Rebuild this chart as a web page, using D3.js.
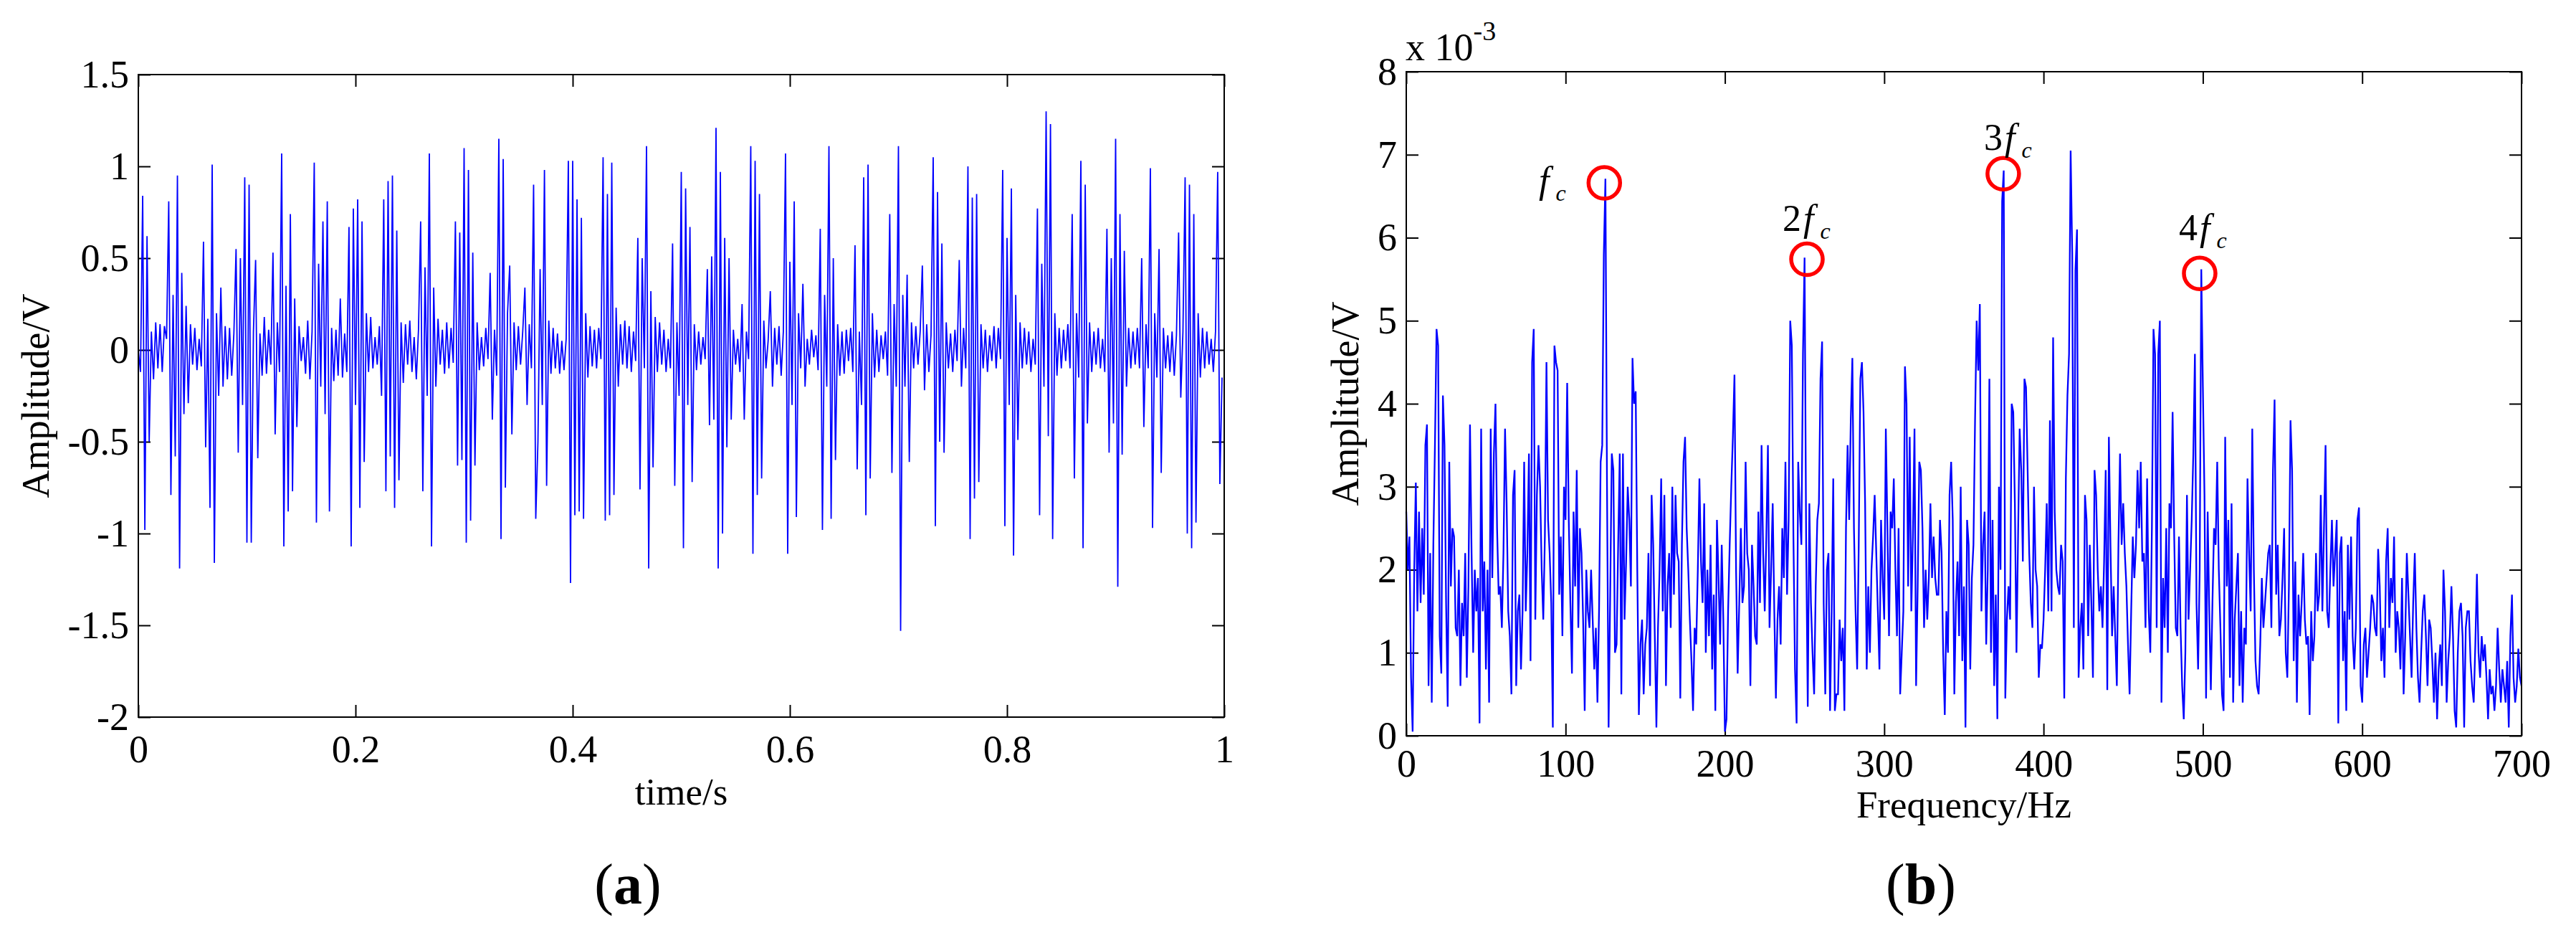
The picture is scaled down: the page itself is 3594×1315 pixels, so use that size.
<!DOCTYPE html>
<html>
<head>
<meta charset="utf-8">
<script src="https://cdn.jsdelivr.net/npm/d3@7"></script>
<style>
  html, body { margin: 0; background: #fff; }
  svg { display: block; }
  text { font-family: "Liberation Serif", "Times New Roman", serif; fill: #000; }
</style>
</head>
<body>
<div class="chart-box"></div>
<script>
// (a) time signal, one sample every 2 ms
var sampleStep = 0.002;
var signal = [
  0, -0.12, 0.84, -0.98, 0.62, -0.5, 0.1, -0.16, 0.15, -0.1,
  0.14, -0.12, 0.13, 0.06, 0.81, -0.79, 0.3, -0.58, 0.95, -1.19,
  0.42, -0.35, 0.24, -0.29, 0.14, -0.08, 0.12, -0.11, 0.06, -0.09,
  0.59, -0.53, 0.17, -0.86, 1.01, -1.16, 0.2, -0.25, 0.34, -0.2,
  0.13, -0.16, 0.12, -0.14, 0.09, 0.55, -0.56, 0.5, -0.3, 0.94,
  -1.05, 0.9, -1.05, 0.1, 0.49, -0.59, 0.09, -0.14, 0.18, -0.13,
  0.11, -0.08, 0.53, -0.46, 0.15, -0.12, 1.07, -1.07, 0.35, -0.88,
  0.74, -0.77, 0.28, -0.42, 0.13, -0.06, 0.07, -0.13, 0.16, -0.16,
  0.1, 1.02, -0.94, 0.47, -0.2, 0.7, -0.35, 0.81, -0.88, 0.12,
  -0.17, 0.11, -0.14, 0.28, -0.15, 0.09, -0.12, 0.67, -1.07, 0.77,
  -0.3, 0.82, -0.86, 0.7, -0.61, 0.2, -0.12, 0.18, -0.1, 0.07,
  -0.08, 0.13, -0.25, 0.82, -0.77, 0.92, -0.58, 0.95, -0.86, 0.65,
  -0.71, 0.15, -0.18, 0.14, -0.08, 0.16, -0.12, 0.07, -0.16, 0.11,
  0.7, -0.77, 0.45, -0.25, 1.07, -1.07, 0.34, -0.2, 0.17, -0.08,
  0.11, -0.13, 0.15, -0.1, 0.12, -0.07, 0.7, -0.63, 0.64, -0.6,
  1.1, -1.05, 0.98, -0.93, 0.53, -0.63, 0.15, -0.11, 0.07, -0.09,
  0.12, -0.05, 0.42, -0.38, 0.11, -0.14, 1.15, -1.03, 1.04, -0.75,
  0.2, 0.46, -0.46, 0.15, -0.11, 0.13, -0.08, 0.1, 0.34, -0.3,
  0.14, -0.1, 0.9, -0.92, -0.5, 0.44, -0.3, 0.98, -0.74, 0.16,
  -0.13, 0.12, -0.1, 0.09, -0.13, 0.05, -0.11, 0.06, 1.03, -1.27,
  1.03, -0.9, 0.82, -0.88, 0.72, -0.92, 0.2, -0.15, 0.13, -0.09,
  0.11, -0.1, 0.12, -0.05, 1.05, -0.93, 0.85, -0.9, 1.02, -0.79,
  0.23, -0.2, 0.14, -0.08, 0.16, -0.1, 0.13, -0.12, 0.1, -0.06,
  0.61, -0.76, 0.5, -0.1, 1.11, -1.19, 0.32, -0.64, 0.18, -0.12,
  0.15, -0.08, 0.11, -0.12, 0.06, -0.1, 0.58, -0.74, 0.15, -0.25,
  0.97, -1.08, 0.88, -0.3, 0.67, -0.72, 0.14, -0.11, 0.1, -0.08,
  0.07, -0.05, 0.44, -0.41, 0.51, -0.38, 1.21, -1.19, 0.97, -1.0,
  0.61, -0.53, 0.5, -0.38, 0.11, -0.08, 0.06, -0.12, 0.25, -0.38,
  0.1, -0.05, 1.11, -1.11, 1.03, -0.79, 0.85, -0.7, 0.16, -0.1,
  0.05, 0.32, -0.2, 0.12, -0.08, 0.13, -0.14, 0.1, 1.07, -1.11,
  0.48, -0.3, 0.81, -0.91, 0.2, -0.1, 0.36, -0.2, 0.06, -0.08,
  0.11, -0.04, 0.08, -0.11, 0.66, -0.98, 0.3, -0.2, 1.11, -0.92,
  0.5, -0.6, 0.14, -0.14, 0.1, -0.13, 0.11, -0.06, 0.12, -0.12,
  0.57, -0.65, 0.1, -0.3, 0.94, -0.9, 1.01, -0.7, 0.2, -0.15,
  0.11, -0.12, 0.08, -0.05, 0.1, -0.14, 0.74, -0.67, 0.25, -0.2,
  1.11, -1.53, 0.3, -0.2, 0.41, -0.61, 0.15, -0.1, 0.13, -0.08,
  0.1, 0.46, -0.22, 0.14, -0.12, 0.08, 1.05, -0.96, 0.86, -0.5,
  0.58, -0.56, 0.15, -0.1, 0.09, -0.12, 0.11, -0.06, 0.49, -0.2,
  0.12, -0.1, 1.0, -1.03, 0.83, -0.81, 0.85, -0.72, 0.14, -0.1,
  0.11, -0.12, 0.08, -0.06, 0.13, -0.1, 0.12, -0.05, 0.98, -0.96,
  0.61, -0.3, 0.88, -1.12, 0.3, -0.49, 0.15, -0.1, 0.12, -0.08,
  0.1, -0.12, 0.06, -0.08, 0.77, -0.9, 0.47, -0.2, 1.3, -0.47,
  1.23, -1.03, 0.2, -0.14, 0.12, -0.1, 0.11, -0.06, 0.14, -0.1,
  0.74, -0.7, 0.2, -0.15, 1.03, -1.08, 0.9, -0.4, 0.15, -0.12,
  0.1, -0.08, 0.12, -0.1, 0.06, -0.12, 0.66, -0.56, 0.5, -0.4,
  1.15, -1.29, 0.74, -0.57, 0.54, -0.2, 0.12, -0.1, 0.1, -0.08,
  0.12, -0.1, 0.5, -0.42, 0.14, -0.1, 0.99, -0.97, 0.2, -0.15,
  0.55, -0.67, 0.12, -0.1, 0.08, -0.12, 0.1, -0.14, 0.08, 0.64,
  -0.26, 0.1, 0.94, -1.0, 0.9, -1.08, 0.74, -0.94, 0.2, -0.15,
  0.12, -0.1, 0.1, -0.08, 0.06, -0.12, 0.1, 0.97, -0.73, -0.15
];

// (b) amplitude spectrum in units of 1e-3 V, one bin per Hz (0..700)
var freqStep = 1;
var spectrum = [
  2.7, 2.0, 2.4, 0.7, 0.05, 2.0, 3.05, 1.5, 2.7, 1.6,
  2.5, 1.7, 3.5, 3.75, 0.6, 2.2, 0.4, 2.3, 3.5, 4.9,
  4.7, 1.2, 0.75, 4.1, 3.5, 1.6, 0.35, 3.3, 1.8, 2.5,
  2.4, 1.3, 1.2, 2.0, 0.6, 1.6, 1.2, 2.2, 0.7, 1.8,
  3.75, 2.2, 1.0, 2.0, 1.5, 1.9, 0.15, 3.7, 1.5, 2.1,
  0.8, 2.0, 0.4, 3.7, 1.9, 3.4, 4.0, 2.5, 1.7, 1.8,
  1.3, 2.2, 3.7, 2.8, 1.5, 1.2, 0.5, 2.9, 3.2, 0.6,
  1.5, 1.7, 0.8, 1.5, 3.3, 1.5, 2.2, 3.4, 0.9, 4.5,
  4.9, 1.4, 2.9, 3.5, 3.0, 2.0, 1.4, 2.4, 4.5, 2.6,
  2.2, 1.6, 0.1, 4.7, 4.5, 4.4, 1.7, 2.4, 1.2, 3.0,
  2.6, 4.25, 2.6, 1.6, 0.75, 2.7, 1.8, 3.2, 1.3, 2.5,
  2.2, 1.4, 0.3, 2.0, 1.5, 1.3, 2.0, 1.4, 0.8, 1.3,
  0.4, 1.5, 3.3, 3.5, 5.8, 6.71, 3.0, 0.1, 1.7, 3.4,
  3.2, 1.0, 1.1, 2.3, 3.4, 0.5, 3.4, 1.4, 2.1, 3.0,
  2.6, 1.8, 4.55, 4.0, 4.15, 2.0, 0.25, 1.1, 1.4, 0.5,
  1.1, 1.3, 2.2, 0.6, 2.9, 2.3, 1.2, 0.1, 1.3, 2.0,
  3.1, 1.5, 2.9, 0.6, 1.8, 2.2, 1.3, 3.0, 1.7, 2.9,
  2.2, 2.1, 0.45, 2.3, 3.3, 3.6, 2.5, 2.0, 1.4, 0.9,
  0.3, 1.3, 1.1, 2.0, 3.1, 2.1, 1.6, 2.8, 1.0, 2.0,
  1.2, 2.3, 0.8, 1.7, 0.3, 2.6, 1.9, 1.1, 2.3, 1.4,
  0.05, 0.2, 1.5, 2.3, 3.0, 3.6, 4.35, 2.0, 0.75, 1.6,
  2.5, 1.6, 1.8, 3.3, 2.2, 2.0, 0.6, 2.3, 1.8, 1.2,
  1.1, 2.7, 1.6, 3.5, 2.2, 1.5, 2.4, 3.5, 1.3, 2.0,
  2.8, 1.5, 0.45, 1.4, 1.8, 1.1, 2.5, 1.9, 3.3, 1.7,
  2.6, 5.0, 4.7, 2.4, 0.8, 0.15, 3.3, 2.7, 2.3, 4.6,
  5.76, 2.3, 0.35, 2.8, 1.6, 1.0, 0.5, 1.8, 2.6, 2.8,
  4.3, 4.75, 1.6, 0.5, 2.0, 2.2, 0.3, 1.5, 3.1, 0.3,
  0.5, 0.5, 1.4, 0.9, 1.3, 0.3, 2.5, 3.5, 2.6, 3.8,
  4.55, 2.5, 1.5, 0.8, 2.3, 4.3, 4.5, 3.9, 2.8, 0.8,
  1.8, 1.0, 2.0, 2.4, 2.9, 2.2, 1.5, 0.8, 2.6, 1.9,
  1.4, 3.7, 2.5, 1.2, 2.7, 2.5, 3.1, 2.0, 1.2, 2.5,
  0.5, 1.0, 1.5, 4.45, 4.0, 1.8, 3.6, 1.5, 2.4, 3.7,
  0.6, 1.8, 3.3, 3.2, 2.5, 1.3, 2.0, 1.4, 1.9, 2.8,
  1.9, 2.4, 1.9, 1.7, 1.7, 2.6, 2.2, 1.0, 0.25, 1.5,
  1.0, 2.9, 3.3, 2.6, 0.5, 1.6, 2.1, 1.2, 3.0, 0.9,
  1.8, 0.1, 2.6, 2.3, 0.8, 1.9, 2.3, 3.8, 5.0, 4.4,
  5.2, 1.5, 2.3, 2.7, 1.1, 2.0, 4.3, 1.0, 2.6, 0.6,
  1.7, 0.2, 3.0, 2.0, 6.44, 6.81, 0.45, 1.4, 1.8, 1.4,
  4.0, 3.9, 2.8, 1.0, 2.4, 3.7, 3.2, 2.1, 4.3, 4.2,
  3.2, 2.2, 1.6, 1.3, 3.0, 2.0, 1.8, 0.7, 1.1, 1.05,
  1.4, 2.0, 2.8, 1.5, 3.8, 1.5, 4.8, 2.7, 2.0, 1.8,
  1.7, 2.3, 2.1, 0.45, 3.1, 4.1, 4.6, 7.05, 5.8, 1.3,
  5.6, 6.1, 0.7, 1.3, 1.6, 0.8, 2.9, 2.6, 1.2, 2.3,
  1.6, 0.7, 3.2, 2.9, 2.0, 1.5, 1.8, 1.3, 2.1, 3.2,
  0.55, 3.6, 2.3, 1.2, 1.8, 1.2, 0.6, 2.3, 3.4, 2.3,
  2.8, 2.2, 1.8, 1.1, 0.5, 1.5, 2.4, 1.9, 2.3, 3.2,
  2.5, 3.3, 2.1, 2.2, 1.3, 3.1, 1.5, 1.0, 2.5, 4.9,
  4.6, 1.3, 4.6, 5.0, 0.4, 1.9, 1.3, 2.5, 1.0, 2.8,
  2.5, 3.9, 2.4, 1.3, 1.2, 2.4, 1.3, 0.6, 0.2, 1.0,
  2.9, 1.4, 2.0, 2.6, 3.4, 4.6, 1.6, 0.8, 2.0, 5.62,
  4.2, 2.9, 0.45, 2.7, 1.5, 0.55, 1.6, 2.5, 2.3, 3.3,
  2.0, 1.3, 0.5, 0.3, 3.6, 1.8, 2.6, 0.7, 2.8, 0.4,
  1.4, 1.8, 2.2, 0.6, 1.5, 0.4, 1.3, 1.1, 3.1, 2.2,
  1.5, 3.7, 2.0, 0.9, 0.6, 0.5, 1.1, 1.9, 1.3, 1.6,
  1.9, 2.2, 2.3, 1.3, 3.2, 4.05, 1.7, 2.3, 1.2, 1.4,
  1.9, 2.5, 1.0, 0.7, 1.8, 3.8, 3.2, 0.9, 2.1, 0.4,
  1.7, 1.2, 1.6, 2.2, 1.4, 1.1, 1.2, 0.25, 1.5, 0.9,
  1.2, 2.2, 1.5, 1.7, 2.9, 1.5, 2.5, 3.5, 1.5, 1.3,
  2.0, 2.6, 1.8, 2.2, 2.6, 0.15, 2.2, 2.4, 0.9, 1.5,
  0.3, 2.3, 1.4, 2.4, 1.2, 0.8, 1.3, 2.6, 2.75, 0.6,
  0.4, 1.1, 1.3, 0.7, 1.0, 1.3, 1.7, 1.6, 1.3, 1.2,
  2.25, 1.8, 0.9, 1.3, 0.7, 2.1, 2.5, 1.3, 1.9, 1.6,
  2.4, 1.0, 1.5, 1.3, 0.8, 1.9, 0.5, 1.2, 2.2, 1.7,
  1.2, 0.7, 1.6, 2.2, 1.3, 0.7, 0.4, 1.0, 1.5, 1.7,
  1.2, 0.6, 1.4, 1.3, 0.9, 0.4, 1.0, 0.2, 0.8, 1.1,
  0.6, 2.0, 1.5, 0.4, 0.9, 1.2, 1.8, 1.2, 0.3, 0.1,
  1.0, 1.5, 1.6, 1.2, 0.1, 1.3, 1.5, 1.5, 0.9, 0.6,
  0.4, 1.1, 1.95, 1.0, 0.7, 1.2, 0.9, 1.1, 0.7, 0.2,
  0.8, 0.5, 0.6, 0.3, 0.6, 1.3, 0.8, 0.4, 0.8, 0.6,
  0.4, 0.9, 0.1, 1.2, 1.7, 0.7, 0.4, 0.6, 1.05, 0.7,
  0.6
];

var timeTicks = [0, 0.2, 0.4, 0.6, 0.8, 1];
var voltTicks = [-2, -1.5, -1, -0.5, 0, 0.5, 1, 1.5];
var freqTicks = [0, 100, 200, 300, 400, 500, 600, 700];
var specTicks = [0, 1, 2, 3, 4, 5, 6, 7, 8];

// marked harmonics of the fault frequency: circle centre (Hz, 1e-3 V) and label prefix
var harmonicPrefix = ["", "2", "3", "4"];
var circleFreq = [124.3, 251.5, 374.7, 498.0];
var circleAmp = [6.66, 5.74, 6.77, 5.57];
var labelFreq = [83.2, 236.2, 362.6, 485.0];
var labelAmp = [6.54, 6.08, 7.06, 5.97];

var width = 3594, height = 1315;
var serif = '"Liberation Serif", "Times New Roman", serif';

var svg = d3.select(".chart-box").append("svg")
    .attr("width", width)
    .attr("height", height);

svg.append("rect")
    .attr("width", width)
    .attr("height", height)
    .attr("fill", "#fff");

function drawPanel(opt) {
  var x = opt.x, y = opt.y;
  var xl = x.range()[0], xr = x.range()[1];
  var yb = y.range()[0], yt = y.range()[1];
  var g = svg.append("g");
  var tick = 17;

  function style(axis) {
    axis.attr("font-size", 54).attr("font-family", serif);
    axis.select(".domain").remove();
    axis.selectAll(".tick line").attr("stroke", "#000").attr("stroke-width", 2);
    axis.selectAll(".tick text").attr("fill", "#000").attr("font-family", serif);
  }

  g.append("g")
      .attr("transform", "translate(0," + yb + ")")
      .call(d3.axisBottom(x).tickValues(opt.xTicks).tickFormat(String)
        .tickSizeInner(-tick).tickSizeOuter(0).tickPadding(opt.xPad))
      .call(style);
  g.append("g")
      .attr("transform", "translate(0," + yt + ")")
      .call(d3.axisTop(x).tickValues(opt.xTicks).tickFormat("")
        .tickSizeInner(-tick).tickSizeOuter(0))
      .call(style);
  g.append("g")
      .attr("transform", "translate(" + xl + ",0)")
      .call(d3.axisLeft(y).tickValues(opt.yTicks).tickFormat(String)
        .tickSizeInner(-tick).tickSizeOuter(0).tickPadding(13))
      .call(style);
  g.append("g")
      .attr("transform", "translate(" + xr + ",0)")
      .call(d3.axisRight(y).tickValues(opt.yTicks).tickFormat("")
        .tickSizeInner(-tick).tickSizeOuter(0))
      .call(style);

  var line = d3.line()
      .x(function(d, i) { return x(i * opt.step); })
      .y(function(d) { return y(d); });

  g.append("path")
      .datum(opt.data)
      .attr("fill", "none")
      .attr("stroke", "#0000ff")
      .attr("stroke-width", opt.lineWidth)
      .attr("stroke-linejoin", "miter")
      .attr("d", line);

  g.append("rect")
      .attr("x", xl)
      .attr("y", yt)
      .attr("width", xr - xl)
      .attr("height", yb - yt)
      .attr("fill", "none")
      .attr("stroke", "#000")
      .attr("stroke-width", 2);

  g.append("text")
      .attr("x", (xl + xr) / 2)
      .attr("y", yb + opt.xLabelGap)
      .attr("text-anchor", "middle")
      .attr("font-size", 53)
      .text(opt.xLabel);

  g.append("text")
      .attr("transform", "translate(" + opt.yLabelX + "," + (yt + yb) / 2 + ") rotate(-90)")
      .attr("text-anchor", "middle")
      .attr("font-size", 54)
      .text("Amplitude/V");

  var tag = g.append("text")
      .attr("x", opt.tagX)
      .attr("y", 1260)
      .attr("text-anchor", "middle")
      .attr("font-size", 80);
  tag.append("tspan").text("(");
  tag.append("tspan").attr("font-weight", "bold").text(opt.tag);
  tag.append("tspan").text(")");

  return g;
}

drawPanel({
  x: d3.scaleLinear().domain([0, 1]).range([193, 1708]),
  y: d3.scaleLinear().domain([-2, 1.5]).range([1000, 104]),
  data: signal,
  step: sampleStep,
  lineWidth: 1.8,
  xTicks: timeTicks,
  yTicks: voltTicks,
  xPad: 25,
  xLabel: "time/s",
  xLabelGap: 122,
  yLabelX: 68,
  tag: "a",
  tagX: 876
});

var fx = d3.scaleLinear().domain([0, 700]).range([1962, 3518]);
var fy = d3.scaleLinear().domain([0, 8]).range([1026, 100]);

var right = drawPanel({
  x: fx,
  y: fy,
  data: spectrum,
  step: freqStep,
  lineWidth: 2.3,
  xTicks: freqTicks,
  yTicks: specTicks,
  xPad: 19,
  xLabel: "Frequency/Hz",
  xLabelGap: 114,
  yLabelX: 1895,
  tag: "b",
  tagX: 2680
});

// exponent of the amplitude axis
var expo = right.append("text")
    .attr("x", fx(0) - 1)
    .attr("y", fy(8) - 16)
    .attr("font-size", 54);
expo.append("tspan").text("x 10");
expo.append("tspan").attr("font-size", 38).attr("dy", -28).text("-3");

// red circles and f_c labels
harmonicPrefix.forEach(function(p, i) {
  right.append("circle")
      .attr("cx", fx(circleFreq[i]))
      .attr("cy", fy(circleAmp[i]))
      .attr("r", 22)
      .attr("fill", "none")
      .attr("stroke", "#ff0000")
      .attr("stroke-width", 5.5);

  var t = right.append("text")
      .attr("x", fx(labelFreq[i]))
      .attr("y", fy(labelAmp[i]))
      .attr("font-size", 52);
  if (p) t.append("tspan").text(p);
  t.append("tspan").attr("font-style", "italic").attr("dx", p ? 3 : 0).text("f");
  t.append("tspan").attr("font-style", "italic").attr("font-size", 32)
      .attr("dx", 9).attr("dy", 11).text("c");
});
</script>
</body>
</html>
